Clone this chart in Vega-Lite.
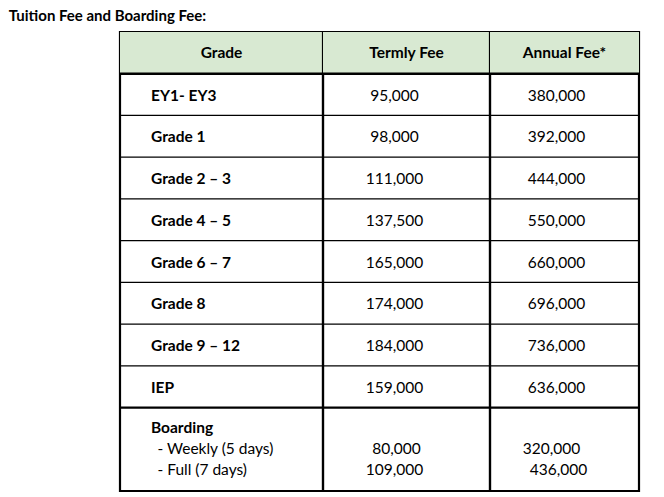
{
  "$schema": "https://vega.github.io/schema/vega-lite/v6.json",
  "padding": {"left": 8, "top": 8, "right": 26, "bottom": 8},
  "background": "white",
  "bounds": "flush",
  "title": {"text": "Tuition Fee and Boarding Fee:", "anchor": "start", "dx": -109, "fontSize": 15, "font": "Lato", "fontWeight": "bold", "color": "black", "offset": 7},
  "data": {"values": [
    {"row": "Grade", "grade": "Grade", "termly": "Termly Fee", "annual": "Annual Fee*", "style": "header"},
    {"row": "EY1- EY3", "grade": "EY1- EY3", "termly": "95,000", "annual": "380,000", "style": "body"},
    {"row": "Grade 1", "grade": "Grade 1", "termly": "98,000", "annual": "392,000", "style": "body"},
    {"row": "Grade 2 – 3", "grade": "Grade 2 – 3", "termly": "111,000", "annual": "444,000", "style": "body"},
    {"row": "Grade 4 – 5", "grade": "Grade 4 – 5", "termly": "137,500", "annual": "550,000", "style": "body"},
    {"row": "Grade 6 – 7", "grade": "Grade 6 – 7", "termly": "165,000", "annual": "660,000", "style": "body"},
    {"row": "Grade 8", "grade": "Grade 8", "termly": "174,000", "annual": "696,000", "style": "body"},
    {"row": "Grade 9 – 12", "grade": "Grade 9 – 12", "termly": "184,000", "annual": "736,000", "style": "body"},
    {"row": "IEP", "grade": "IEP", "termly": "159,000", "annual": "636,000", "style": "body"},
    {"row": "Boarding", "grade": "Boarding", "termly": "", "annual": "", "style": "body"},
    {"row": "Boarding", "grade": "- Weekly (5 days)", "termly": "80,000", "annual": "320,000", "style": "sub1"},
    {"row": "Boarding (cont.)", "grade": "- Full (7 days)", "termly": "109,000", "annual": "436,000", "style": "sub2"}
  ]},
  "spacing": -2,
  "hconcat": [
    {
      "width": 203, "height": 459,
      "encoding": {"y": {"field": "row", "type": "nominal", "axis": null, "scale": {"type": "band", "paddingInner": 0, "paddingOuter": 0, "domain": ["Grade", "EY1- EY3", "Grade 1", "Grade 2 – 3", "Grade 4 – 5", "Grade 6 – 7", "Grade 8", "Grade 9 – 12", "IEP", "Boarding", "Boarding (cont.)"]}}},
      "layer": [
        {"transform": [{"filter": "datum.style === 'header'"}], "mark": {"type": "rect", "color": "#d8e9d2"}},
        {"transform": [{"filter": "datum.style === 'body'"}], "mark": {"type": "rule", "color": "black"},
         "encoding": {"y": {"field": "row", "type": "nominal", "bandPosition": 0}, "strokeWidth": {"condition": {"test": "datum.row === 'EY1- EY3' || datum.row === 'Boarding'", "value": 2.3}, "value": 1.3}}},
        {"transform": [{"filter": "datum.style === 'header'"}], "mark": {"type": "text", "font": "Lato", "fontSize": 15.5, "fontWeight": "bold", "align": "center", "baseline": "middle", "color": "black"}, "encoding": {"text": {"field": "grade"}}},
        {"transform": [{"filter": "datum.style === 'body' && datum.row !== 'Boarding'"}], "mark": {"type": "text", "font": "Lato", "fontSize": 15.5, "fontWeight": "bold", "align": "left", "baseline": "middle", "color": "black", "dx": -70.5, "dy": 1}, "encoding": {"text": {"field": "grade"}}},
        {"transform": [{"filter": "datum.row === 'Boarding' && datum.style === 'body'"}], "mark": {"type": "text", "font": "Lato", "fontSize": 15.5, "fontWeight": "bold", "align": "left", "baseline": "middle", "color": "black", "dx": -70.5}, "encoding": {"text": {"field": "grade"}}},
        {"transform": [{"filter": "datum.style === 'sub1'"}], "mark": {"type": "text", "font": "Lato", "fontSize": 15.5, "align": "left", "baseline": "middle", "color": "black", "dx": -64}, "encoding": {"text": {"field": "grade"}, "y": {"field": "row", "type": "nominal", "bandPosition": 1}}},
        {"transform": [{"filter": "datum.style === 'sub2'"}], "mark": {"type": "text", "font": "Lato", "fontSize": 15.5, "align": "left", "baseline": "middle", "color": "black", "dx": -64}, "encoding": {"text": {"field": "grade"}}}
      ]
    },
    {
      "width": 167, "height": 459,
      "encoding": {"y": {"field": "row", "type": "nominal", "axis": null, "scale": {"type": "band", "paddingInner": 0, "paddingOuter": 0, "domain": ["Grade", "EY1- EY3", "Grade 1", "Grade 2 – 3", "Grade 4 – 5", "Grade 6 – 7", "Grade 8", "Grade 9 – 12", "IEP", "Boarding", "Boarding (cont.)"]}}},
      "layer": [
        {"transform": [{"filter": "datum.style === 'header'"}], "mark": {"type": "rect", "color": "#d8e9d2"}},
        {"transform": [{"filter": "datum.style === 'body'"}], "mark": {"type": "rule", "color": "black"},
         "encoding": {"y": {"field": "row", "type": "nominal", "bandPosition": 0}, "strokeWidth": {"condition": {"test": "datum.row === 'EY1- EY3' || datum.row === 'Boarding'", "value": 2.3}, "value": 1.3}}},
        {"transform": [{"filter": "datum.style === 'header'"}], "mark": {"type": "text", "font": "Lato", "fontSize": 15.5, "fontWeight": "bold", "align": "center", "baseline": "middle", "color": "black"}, "encoding": {"text": {"field": "termly"}}},
        {"transform": [{"filter": "datum.style === 'body'"}], "mark": {"type": "text", "font": "Lato", "fontSize": 15.5, "align": "center", "baseline": "middle", "color": "black", "dx": -12, "dy": 1}, "encoding": {"text": {"field": "termly"}}},
        {"transform": [{"filter": "datum.style === 'sub1'"}], "mark": {"type": "text", "font": "Lato", "fontSize": 15.5, "align": "center", "baseline": "middle", "color": "black", "dx": -10}, "encoding": {"text": {"field": "termly"}, "y": {"field": "row", "type": "nominal", "bandPosition": 1}}},
        {"transform": [{"filter": "datum.style === 'sub2'"}], "mark": {"type": "text", "font": "Lato", "fontSize": 15.5, "align": "center", "baseline": "middle", "color": "black", "dx": -12}, "encoding": {"text": {"field": "termly"}}}
      ]
    },
    {
      "width": 149, "height": 459,
      "encoding": {"y": {"field": "row", "type": "nominal", "axis": null, "scale": {"type": "band", "paddingInner": 0, "paddingOuter": 0, "domain": ["Grade", "EY1- EY3", "Grade 1", "Grade 2 – 3", "Grade 4 – 5", "Grade 6 – 7", "Grade 8", "Grade 9 – 12", "IEP", "Boarding", "Boarding (cont.)"]}}},
      "layer": [
        {"transform": [{"filter": "datum.style === 'header'"}], "mark": {"type": "rect", "color": "#d8e9d2"}},
        {"transform": [{"filter": "datum.style === 'body'"}], "mark": {"type": "rule", "color": "black"},
         "encoding": {"y": {"field": "row", "type": "nominal", "bandPosition": 0}, "strokeWidth": {"condition": {"test": "datum.row === 'EY1- EY3' || datum.row === 'Boarding'", "value": 2.3}, "value": 1.3}}},
        {"transform": [{"filter": "datum.style === 'header'"}], "mark": {"type": "text", "font": "Lato", "fontSize": 15.5, "fontWeight": "bold", "align": "center", "baseline": "middle", "color": "black"}, "encoding": {"text": {"field": "annual"}}},
        {"transform": [{"filter": "datum.style === 'body'"}], "mark": {"type": "text", "font": "Lato", "fontSize": 15.5, "align": "center", "baseline": "middle", "color": "black", "dx": -8, "dy": 1}, "encoding": {"text": {"field": "annual"}}},
        {"transform": [{"filter": "datum.style === 'sub1'"}], "mark": {"type": "text", "font": "Lato", "fontSize": 15.5, "align": "center", "baseline": "middle", "color": "black", "dx": -13}, "encoding": {"text": {"field": "annual"}, "y": {"field": "row", "type": "nominal", "bandPosition": 1}}},
        {"transform": [{"filter": "datum.style === 'sub2'"}], "mark": {"type": "text", "font": "Lato", "fontSize": 15.5, "align": "center", "baseline": "middle", "color": "black", "dx": -6}, "encoding": {"text": {"field": "annual"}}}
      ]
    }
  ],
  "config": {"view": {"stroke": "black", "strokeWidth": 2.2}, "concat": {"spacing": 0}}
}
